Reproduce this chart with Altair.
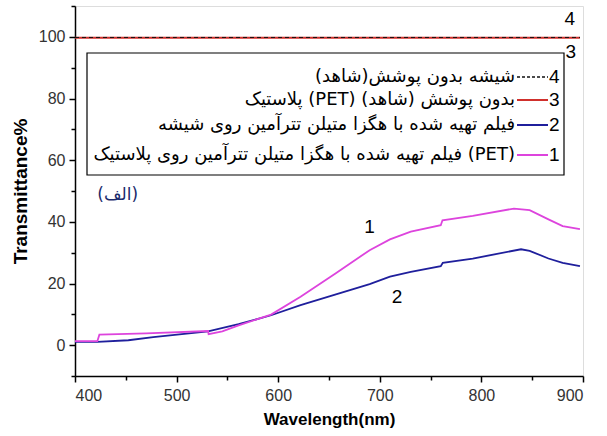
import altair as alt
import pandas as pd

# ---- data ----
wl_1 = [400, 422, 424, 470, 531, 531.5, 545, 561, 593, 622, 656, 690, 710, 730.5, 760, 761.7, 791.5, 832, 847.5, 866, 880, 897]
t_1 = [1.3, 1.3, 3.4, 3.8, 4.6, 3.6, 4.5, 6.4, 9.9, 15.7, 23.2, 30.8, 34.3, 36.8, 38.9, 40.5, 41.9, 44.3, 43.8, 40.8, 38.6, 37.6]

wl_2 = [400, 422, 452.5, 477, 531, 561, 593, 622, 656, 690, 710, 730.5, 760, 762, 791.5, 839, 847.5, 866, 880, 897]
t_2 = [1.1, 1.1, 1.6, 2.6, 4.5, 6.8, 9.7, 13.0, 16.4, 19.8, 22.2, 23.8, 25.6, 26.7, 28.1, 31.1, 30.6, 28.1, 26.7, 25.6]

wl_3 = [400, 500, 600, 700, 800, 897]
t_3 = [99.7, 99.7, 99.7, 99.7, 99.7, 99.7]

wl_4 = [400, 500, 600, 700, 800, 897]
t_4 = [99.8, 99.8, 99.8, 99.8, 99.8, 99.8]

legend_nums = ["4", "3", "2", "1"]
legend_labels = [
    "شیشه بدون پوشش(شاهد)",
    "پلاستیک (PET) بدون پوشش (شاهد)",
    "فیلم تهیه شده با هگزا متیلن تترآمین روی شیشه",
    "فیلم تهیه شده با هگزا متیلن تترآمین روی پلاستیک (PET)",
]
colors = {"1": "#dd44dd", "2": "#1f1f9c", "3": "#d0302c", "4": "#111111"}

FONT = "Liberation Sans"
AFONT = "DejaVu Sans"

W, H = 508, 370

xscale = alt.Scale(domain=[400, 900], nice=False, zero=False)
yscale = alt.Scale(domain=[-10, 110], nice=False, zero=False)

xaxis = alt.Axis(
    values=list(range(400, 901, 50)),
    labelExpr="datum.value % 100 === 0 ? datum.label : ''",
    tickSize={"condition": {"test": "datum.value % 100 !== 0", "value": 4}, "value": 6},
    labelOverlap=False,
    title="Wavelength(nm)", titleFontSize=17, titleFont=FONT, titleFontWeight="bold",
    titleColor="black", titlePadding=8,
    labelFont=FONT, labelFontSize=16, labelColor="#333333", labelPadding=5,
    grid=False, domainColor="black", tickColor="black", domainWidth=1.5, tickWidth=1.5,
)
yaxis = alt.Axis(
    values=list(range(-10, 111, 10)),
    labelExpr="(datum.value % 20 === 0 && datum.value >= 0 && datum.value <= 100) ? datum.label : ''",
    tickSize={"condition": {"test": "datum.value % 20 !== 0", "value": 4}, "value": 6},
    labelOverlap=False,
    title="Transmittance%", titleFontSize=19, titleFont=FONT, titleFontWeight="bold",
    titleColor="black", titlePadding=8,
    labelFont=FONT, labelFontSize=16, labelColor="#333333", labelPadding=4,
    grid=False, domainColor="black", tickColor="black", domainWidth=1.5, tickWidth=1.5,
)

def series_df(wl, t, name):
    return pd.DataFrame({"wl": wl, "t": t, "s": [name] * len(wl)})

def line(df, color, width=1.8, dash=None):
    kw = dict(color=color, strokeWidth=width, clip=True)
    if dash:
        kw["strokeDash"] = dash
    return alt.Chart(df).mark_line(**kw).encode(
        x=alt.X("wl:Q", scale=xscale, axis=xaxis),
        y=alt.Y("t:Q", scale=yscale, axis=yaxis),
        order="idx:Q",
    ).transform_window(idx="row_number()")

l2 = line(series_df(wl_2, t_2, "2"), colors["2"])
l1 = line(series_df(wl_1, t_1, "1"), colors["1"])
l3 = line(series_df(wl_3, t_3, "3"), colors["3"], width=2.2)
l4 = line(series_df(wl_4, t_4, "4"), colors["4"], width=1.0, dash=[4, 3])

# annotations placed in data coordinates
ann = pd.DataFrame({
    "wl": [690, 717, 887, 888],
    "t": [38.2, 15.5, 105.8, 95.2],
    "txt": ["1", "2", "4", "3"],
})
ann_layer = alt.Chart(ann).mark_text(font=FONT, fontSize=19, color="black").encode(
    x=alt.X("wl:Q", scale=xscale, axis=xaxis), y=alt.Y("t:Q", scale=yscale, axis=yaxis), text="txt:N")

alef = alt.Chart(pd.DataFrame({"wl": [442], "t": [48.8], "txt": ["(الف)"]})).mark_text(
    font=AFONT, fontSize=17, color="#1a2a6c").encode(
    x=alt.X("wl:Q", scale=xscale, axis=xaxis), y=alt.Y("t:Q", scale=yscale, axis=yaxis), text="txt:N")

# legend box
box = alt.Chart(pd.DataFrame({"a": [0]})).mark_rect(
    fill="white", stroke="black", strokeWidth=1.2).encode(
    x=alt.value(12), x2=alt.value(489), y=alt.value(47), y2=alt.value(169))

leg_layers = []
row_y = [71, 94, 119, 149]
for i, (num, lab) in enumerate(zip(legend_nums, legend_labels)):
    d = pd.DataFrame({"lab": [lab], "num": [num]})
    leg_layers.append(alt.Chart(d).mark_text(
        font=AFONT, fontSize=18, align="right", baseline="middle", color="black").encode(
        x=alt.value(440), y=alt.value(row_y[i]), text="lab:N"))
    kw = dict(color=colors[num], strokeWidth=2 if num != "4" else 1.5)
    if num == "4":
        kw["strokeDash"] = [3, 2]
    leg_layers.append(alt.Chart(d).mark_rule(**kw).encode(
        x=alt.value(442), x2=alt.value(473), y=alt.value(row_y[i])))
    leg_layers.append(alt.Chart(d).mark_text(
        font=FONT, fontSize=19, align="left", baseline="middle", color="black").encode(
        x=alt.value(474), y=alt.value(row_y[i]), text="num:N"))

chart = alt.layer(l3, l4, l2, l1, box, *leg_layers, ann_layer, alef).properties(
    width=W, height=H,
    padding={"left": 75, "top": 6, "right": 24, "bottom": 60},
    autosize="none",
).configure_view(stroke="black", strokeWidth=1.5).configure(background="white")

chart.save("out.html", embed_options={"renderer": "svg", "actions": False})
